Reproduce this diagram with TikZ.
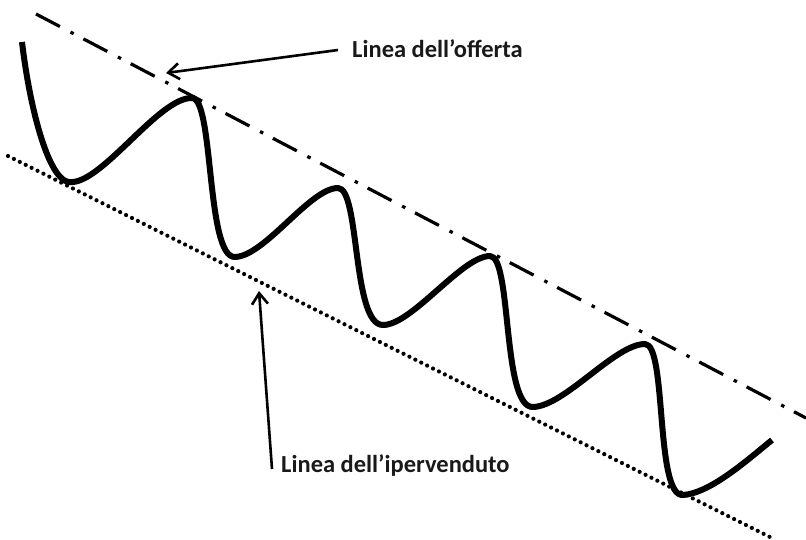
\documentclass[tikz,border=0pt]{standalone}
\usepackage{fontspec}
\setmainfont{Carlito}
\usetikzlibrary{arrows.meta}
\begin{document}
\begin{tikzpicture}[x=1pt,y=-1pt,
  wave/.style={line width=6pt,line join=round},
  resist/.style={line width=3.2pt,dash pattern=on 27pt off 12pt on 3.5pt off 11pt},
  support/.style={line width=4.2pt,line cap=round,dash pattern=on 0pt off 6.6pt},
  arr/.style={line width=2.6pt,-{Straight Barb[length=11pt,width=16pt,line width=2.6pt]}},
  lbl/.style={font=\fontsize{24.5}{28}\selectfont\bfseries,inner sep=0pt,anchor=west,text=black!90}]
\useasboundingbox[fill=white] (0,0) rectangle (806,539);
\coordinate (r1) at (36,14);
\coordinate (r2) at (806,418);
\coordinate (s1) at (8,156);
\coordinate (s2) at (772,538);
\draw[resist] (r1) -- (r2);
\draw[support] (s1) -- (s2);
\draw[wave] (22,42) .. controls (30,110) and (50,188) .. (73,182)
  .. controls (105,179) and (160,97) .. (192,98)
  .. controls (214,98) and (206,258) .. (235,257)
  .. controls (265,256) and (310,188) .. (338,188)
  .. controls (360,188) and (352,325) .. (383,325)
  .. controls (412,325) and (462,256) .. (490,256)
  .. controls (512,256) and (502,408) .. (533,407)
  .. controls (565,406) and (615,344) .. (645,344)
  .. controls (667,344) and (655,497) .. (683,495)
  .. controls (710,493) and (745,462) .. (772,440);
\node[lbl] (t1) at (352,49) {Linea dell’offerta};
\node[lbl] (t2) at (281,466) {Linea dell’ipervenduto};
\coordinate (tip1) at (166,73);
\coordinate (tip2) at (259,291);
\draw[arr] ([xshift=-14pt,yshift=-1pt]t1.west) -- (tip1);
\draw[arr] ([xshift=-9pt,yshift=-3pt]t2.west) -- (tip2);
\end{tikzpicture}
\end{document}
